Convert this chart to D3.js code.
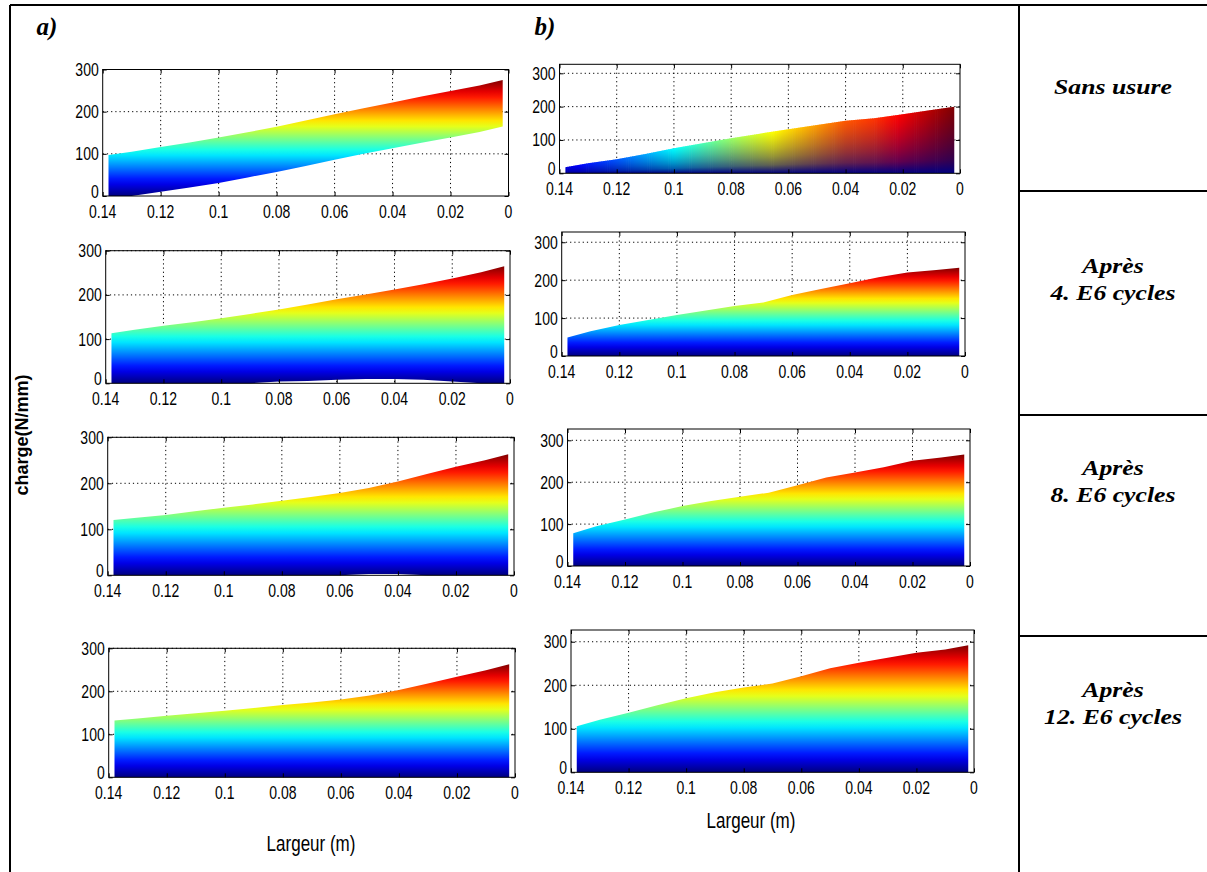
<!DOCTYPE html>
<html><head><meta charset="utf-8">
<script src="https://cdn.jsdelivr.net/npm/d3@7"></script>
<style>body{margin:0;background:#fff}svg{display:block}</style>
</head><body>
<script>
// ---------- data ----------
const xPos = [0.138,0.13,0.12,0.11,0.1,0.09,0.08,0.07,0.06,0.05,0.04,0.03,0.02,0.01,0.002];
const xTicks = [0.14,0.12,0.1,0.08,0.06,0.04,0.02,0];
const xTickLabels = ["0.14","0.12","0.1","0.08","0.06","0.04","0.02","0"];
const yTicks = [0,100,200,300];
const yTickLabels = ["0","100","200","300"];

// column a) charge (N/mm)
const a1Upper = [97,105,116,127,139,151,164,179,194,208,222,236,249,262,275];
const a1Lower = [0,0,10,20,31,44,57,71,86,100,113,126,139,152,165];
const a2Upper = [113,121,130,138,147,157,167,178,190,201,212,224,237,251,265];
const a2Lower = [0,0,0,0,0,0,4,5,8,10,10,8,4,0,0];
const a3Upper = [120,125,131,139,147,154,162,170,179,190,204,220,236,250,263];
const a3Lower = [0,0,0,0,0,0,0,0,0,3,3,0,0,0,0];
const a4Upper = [132,137,143,149,155,161,168,174,181,190,203,218,234,249,263];
const a4Lower = [0,0,0,0,0,0,0,0,0,0,0,0,0,0,0];
// column b)
const b1Upper = [18,30,42,58,75,90,105,119,132,145,158,165,177,190,200];
const b2Upper = [49,65,82,95,108,120,132,141,161,177,192,208,220,227,233];
const b3Upper = [78,95,111,128,143,155,165,175,193,211,223,236,251,259,266];
const b4Upper = [106,121,137,154,170,184,195,204,221,239,252,263,275,282,292];
const zeros = [0,0,0,0,0,0,0,0,0,0,0,0,0,0,0];

const colTitles = ["a)","b)"];
const rowLabels = [["Sans usure"],["Après","4. E6 cycles"],["Après","8. E6 cycles"],["Après","12. E6 cycles"]];
const xTitle = "Largeur (m)";
const yTitle = "charge(N/mm)";

// ---------- layout ----------
const W = 1207, H = 872;
const panels = [
  {up:a1Upper, lo:a1Lower, x0:102.7, x1:508.5, yTop:69.5, yBot:196,   yMax:300, mode:"v"},
  {up:a2Upper, lo:a2Lower, x0:105.7, x1:510,   yTop:250.7, yBot:383.3, yMax:300, mode:"v"},
  {up:a3Upper, lo:a3Lower, x0:107.7, x1:514,   yTop:437.3, yBot:575.3, yMax:300, mode:"v"},
  {up:a4Upper, lo:a4Lower, x0:108.7, x1:515,   yTop:648.3, yBot:777.3, yMax:300, mode:"v"},
  {up:b1Upper, lo:zeros,   x0:559.5, x1:960,   yTop:64.3,  yBot:173.3, yMax:327, mode:"col"},
  {up:b2Upper, lo:zeros,   x0:561.7, x1:965,   yTop:232,   yBot:356,   yMax:327, mode:"v"},
  {up:b3Upper, lo:zeros,   x0:567.5, x1:970,   yTop:429,   yBot:566,   yMax:327, mode:"v"},
  {up:b4Upper, lo:zeros,   x0:571,   x1:974,   yTop:630,   yBot:772.3, yMax:327, mode:"v"}
];

function jetRGB(t){
  t = Math.max(0, Math.min(1, t));
  const c = v => 255*Math.max(0, Math.min(1, v));
  return [c(1.5-Math.abs(4*t-3)), c(1.5-Math.abs(4*t-2)), c(1.5-Math.abs(4*t-1))];
}
const rgbStr = a => `rgb(${a.map(v => Math.round(v)).join(",")})`;
const jet = t => rgbStr(jetRGB(t));

const svg = d3.select("body").append("svg").attr("width", W).attr("height", H);
const defs = svg.append("defs");
svg.append("rect").attr("width", W).attr("height", H).attr("fill", "#fff");

const tickFont = "'Liberation Sans', Arial, sans-serif";

panels.forEach((p, i) => {
  const x = d3.scaleLinear().domain([0.14, 0]).range([p.x0, p.x1]);
  const y = d3.scaleLinear().domain([0, p.yMax]).range([p.yBot, p.yTop]);
  const g = svg.append("g");
  const data = xPos.map((xv, k) => ({x: xv, hi: p.up[k], lo: p.lo[k]}));
  const cmax = d3.max(p.up);

  // grid
  g.selectAll(".gx").data(xTicks.slice(1, -1)).join("line")
    .attr("x1", d => x(d)).attr("x2", d => x(d)).attr("y1", p.yTop).attr("y2", p.yBot)
    .attr("stroke", "#000").attr("stroke-width", 1).attr("stroke-dasharray", "1.2,3");
  g.selectAll(".gy").data(yTicks.filter(v => v > 0 && v <= p.yMax)).join("line")
    .attr("x1", p.x0).attr("x2", p.x1).attr("y1", d => y(d)).attr("y2", d => y(d))
    .attr("stroke", "#000").attr("stroke-width", 1).attr("stroke-dasharray", "1.2,3");

  const area = d3.area().x(d => x(d.x)).y0(d => y(d.lo)).y1(d => y(d.hi));

  if (p.mode === "v") {
    const gid = "grad" + i;
    const gr = defs.append("linearGradient").attr("id", gid).attr("gradientUnits", "userSpaceOnUse")
      .attr("x1", 0).attr("x2", 0).attr("y1", y(0)).attr("y2", y(cmax));
    d3.range(0, 21).forEach(k => gr.append("stop").attr("offset", k/20).attr("stop-color", jet(k/20)));
    g.append("path").datum(data).attr("d", area).attr("fill", `url(#${gid})`);
  } else {
    // each column: blend from jet(0) at the bottom to jet(top/cmax) at the top
    const cid = "clip" + i;
    defs.append("clipPath").attr("id", cid).append("path").datum(data).attr("d", area);
    const strips = [];
    for (let k = 0; k < data.length - 1; k++) {
      const px0 = x(data[k].x), px1 = x(data[k+1].x);
      const n = Math.max(1, Math.ceil((px1 - px0) / 2));
      for (let s = 0; s < n; s++) {
        const f0 = s/n, f1 = (s+1)/n, fm = (s+0.5)/n;
        strips.push({
          a: px0 + (px1-px0)*f0, b: px0 + (px1-px0)*f1,
          top: data[k].hi + (data[k+1].hi - data[k].hi)*fm,
          topMax: Math.max(data[k].hi, data[k+1].hi)
        });
      }
    }
    const sg = g.append("g").attr("clip-path", `url(#${cid})`);
    const base = jetRGB(0);
    strips.forEach((st, j) => {
      const gid = `sg${i}_${j}`;
      const topC = jetRGB(st.top / cmax);
      const gr = defs.append("linearGradient").attr("id", gid).attr("gradientUnits", "userSpaceOnUse")
        .attr("x1", 0).attr("x2", 0).attr("y1", y(0)).attr("y2", y(st.top));
      d3.range(0, 6).forEach(q => {
        const t = q/5, m = Math.pow(t, 0.6);
        gr.append("stop").attr("offset", t)
          .attr("stop-color", rgbStr(base.map((b, c) => b + (topC[c] - b)*m)));
      });
      sg.append("rect").attr("x", st.a).attr("width", st.b - st.a + 0.7)
        .attr("y", y(st.topMax) - 1).attr("height", y(0) - y(st.topMax) + 1)
        .attr("fill", `url(#${gid})`);
    });
  }

  // tick marks (inside, all four sides)
  const tickStyle = sel => { sel.select(".domain").remove(); sel.selectAll("line").attr("stroke", "#000"); };
  g.append("g").attr("transform", `translate(0,${p.yBot})`)
    .call(d3.axisBottom(x).tickValues(xTicks).tickSize(-4).tickFormat("")).call(tickStyle);
  g.append("g").attr("transform", `translate(0,${p.yTop})`)
    .call(d3.axisTop(x).tickValues(xTicks).tickSize(-4).tickFormat("")).call(tickStyle);
  g.append("g").attr("transform", `translate(${p.x0},0)`)
    .call(d3.axisLeft(y).tickValues(yTicks).tickSize(-4).tickFormat("")).call(tickStyle);
  g.append("g").attr("transform", `translate(${p.x1},0)`)
    .call(d3.axisRight(y).tickValues(yTicks).tickSize(-4).tickFormat("")).call(tickStyle);

  // box
  g.append("rect").attr("x", p.x0).attr("y", p.yTop).attr("width", p.x1 - p.x0).attr("height", p.yBot - p.yTop)
    .attr("fill", "none").attr("stroke", "#000").attr("stroke-width", 1);

  // tick labels
  g.selectAll(".xl").data(xTicks).join("text")
    .attr("transform", d => `translate(${x(d)},${p.yBot + 22}) scale(1,1.25)`)
    .attr("text-anchor", "middle").attr("font-family", tickFont).attr("font-size", 14).attr("fill", "#000")
    .text((d, k) => xTickLabels[k]);
  g.selectAll(".yl").data(yTicks).join("text")
    .attr("transform", d => `translate(${p.x0 - 4},${y(d) + (d === 0 ? 2 : 6.5)}) scale(1,1.25)`)
    .attr("text-anchor", "end").attr("font-family", tickFont).attr("font-size", 14).attr("fill", "#000")
    .text((d, k) => yTickLabels[k]);
});

// axis titles
const titlePos = [[311, 851], [751, 828]];
titlePos.forEach(([tx, ty]) => {
  svg.append("text").attr("transform", `translate(${tx},${ty}) scale(1,1.25)`)
    .attr("text-anchor", "middle").attr("font-family", tickFont).attr("font-size", 17).attr("fill", "#000")
    .text(xTitle);
});
svg.append("text").attr("transform", "translate(28,435) rotate(-90)")
  .attr("text-anchor", "middle").attr("font-family", tickFont).attr("font-weight", "bold")
  .attr("font-size", 18).attr("fill", "#000").text(yTitle);

// column titles
const serif = "'Liberation Serif', 'Times New Roman', serif";
[[47, 35], [545, 35]].forEach(([tx, ty], k) => {
  svg.append("text").attr("x", tx).attr("y", ty).attr("text-anchor", "middle")
    .attr("font-family", serif).attr("font-weight", "bold").attr("font-style", "italic")
    .attr("font-size", 25).attr("fill", "#000").text(colTitles[k]);
});

// frame
const frame = svg.append("g").attr("stroke", "#000").attr("stroke-width", 2);
frame.append("line").attr("x1", 10).attr("x2", W).attr("y1", 5).attr("y2", 5);
frame.append("line").attr("x1", 10).attr("x2", 10).attr("y1", 5).attr("y2", H);
frame.append("line").attr("x1", 1019).attr("x2", 1019).attr("y1", 5).attr("y2", H);
[191, 415, 636].forEach(yy => frame.append("line").attr("x1", 1019).attr("x2", W).attr("y1", yy).attr("y2", yy));

// row labels
const rowY = [[94], [273, 300], [475, 502], [697, 724]];
rowLabels.forEach((lines, r) => {
  lines.forEach((t, k) => {
    svg.append("text").attr("transform", `translate(1113,${rowY[r][k]}) scale(1.17,1)`)
      .attr("text-anchor", "middle").attr("font-family", serif).attr("font-weight", "bold")
      .attr("font-style", "italic").attr("font-size", 22).attr("fill", "#000").text(t);
  });
});
</script>
</body></html>
